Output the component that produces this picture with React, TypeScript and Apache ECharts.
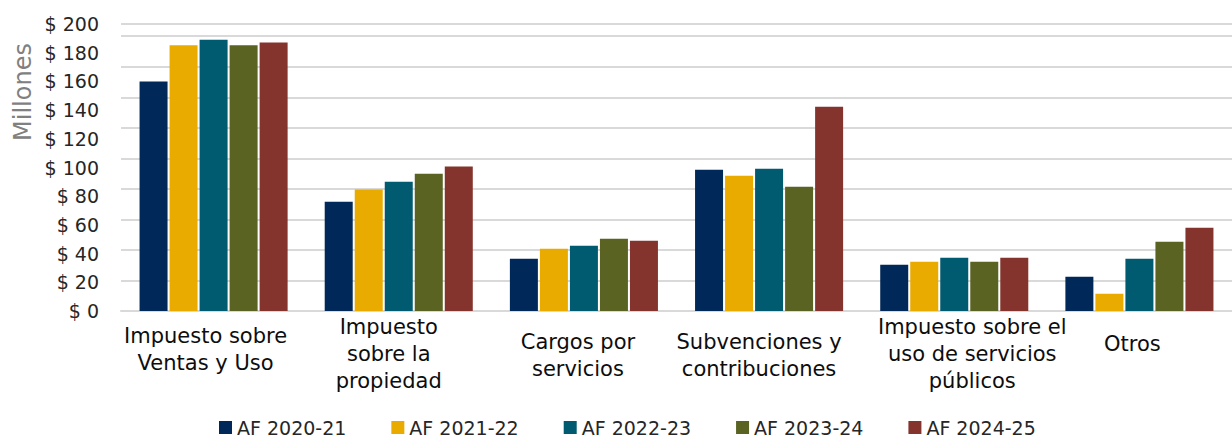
import React, { useEffect, useRef } from 'react';
import * as echarts from 'echarts';

const categories = [
  'Impuesto sobre\nVentas y Uso',
  'Impuesto\nsobre la\npropiedad',
  'Cargos por\nservicios',
  'Subvenciones y\ncontribuciones',
  'Impuesto sobre el\nuso de servicios\npúblicos',
  'Otros',
];
const seriesNames = ['AF 2020-21', 'AF 2021-22', 'AF 2022-23', 'AF 2023-24', 'AF 2024-25'];
const af2020 = [150.4, 71.6, 34.2, 92.5, 30.3, 22.4];
const af2021 = [174.0, 79.6, 40.8, 88.6, 32.3, 11.3];
const af2022 = [177.7, 84.7, 42.8, 93.2, 34.9, 34.2];
const af2023 = [174.0, 89.9, 47.3, 81.4, 32.3, 45.4];
const af2024 = [175.9, 94.7, 46.0, 133.8, 34.9, 54.5];
const seriesColors = ['#00295A', '#EAAB00', '#005A70', '#5A6322', '#84342D'];
const tickLabelMin = 0;
const tickLabelMax = 200;
const tickLabelStep = 20;
const yAxisTitle = 'Millones';

// label nudges (px): horizontal shift and downward drop per category
const labelShift = [-8, -10, -6, -10, 18, -7];
const labelDrop = [9, 0, 15, 15, 0, 17];

const FONT = 'DejaVu Sans';

export default function App() {
  const ref = useRef<HTMLDivElement>(null);
  useEffect(() => {
    if (!ref.current) return;
    const chart = echarts.init(ref.current, undefined, { renderer: 'svg' });
    const allData = [af2020, af2021, af2022, af2023, af2024];
    const catData = categories.map((c, i) => {
      const s = labelShift[i];
      const d = labelDrop[i];
      return {
        value: c,
        textStyle: {
          padding: [d, s < 0 ? -2 * s : 0, 0, s > 0 ? 2 * s : 0],
        },
      };
    });
    chart.setOption({
      animation: false,
      textStyle: { fontFamily: FONT },
      grid: { left: 121, right: -14, top: 24, bottom: 128, containLabel: false },
      legend: {
        data: seriesNames,
        left: 214,
        top: 413,
        icon: 'rect',
        itemWidth: 13,
        itemHeight: 13,
        itemGap: 45,
        textStyle: { fontSize: 19, color: '#262626', fontFamily: FONT },
      },
      xAxis: {
        type: 'category',
        data: catData,
        axisLine: { show: true, lineStyle: { color: '#d9d9d9', width: 2 } },
        axisTick: { show: false },
        axisLabel: {
          interval: 0,
          fontSize: 21,
          lineHeight: 27,
          color: '#0d0d0d',
          margin: 2,
          fontFamily: FONT,
        },
      },
      yAxis: [
        {
          type: 'value',
          min: 0,
          max: 188,
          interval: 20,
          axisLabel: { show: false },
          axisLine: { show: false },
          axisTick: { show: false },
          splitLine: { show: true, lineStyle: { color: '#d9d9d9', width: 2 } },
        },
        {
          type: 'value',
          position: 'left',
          min: tickLabelMin,
          max: tickLabelMax,
          interval: tickLabelStep,
          axisLabel: {
            formatter: (v: number) => '$ ' + v,
            fontSize: 19,
            color: '#262626',
            margin: 22,
            fontFamily: FONT,
          },
          axisLine: { show: false },
          axisTick: { show: false },
          splitLine: { show: false },
        },
      ],
      graphic: [
        {
          type: 'text',
          x: 23,
          y: 92,
          rotation: Math.PI / 2,
          style: {
            text: yAxisTitle,
            fontSize: 24,
            fill: '#808080',
            fontFamily: FONT,
            align: 'center',
            verticalAlign: 'middle',
          },
        },
      ],
      series: seriesNames.map((name, i) => ({
        name,
        type: 'bar',
        yAxisIndex: 0,
        data: allData[i],
        barWidth: 28,
        barGap: '7.2%',
        itemStyle: { color: seriesColors[i] },
      })),
    });
    return () => chart.dispose();
  }, []);
  return (
    <div
      ref={ref}
      style={{ position: 'absolute', left: 0, top: 0, width: 1232, height: 439, background: '#fff' }}
    />
  );
}
